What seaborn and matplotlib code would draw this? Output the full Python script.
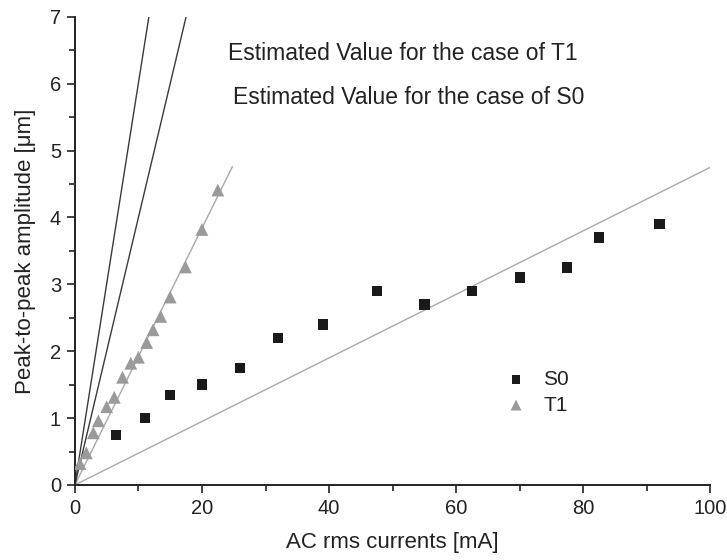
import numpy as np
import pandas as pd
import matplotlib
matplotlib.use("Agg")
import matplotlib.pyplot as plt
import seaborn as sns
from matplotlib.ticker import MultipleLocator

# ---- data ----
s0_x = [6.5, 11, 15, 20, 26, 32, 39, 47.5, 55, 62.5, 70, 77.5, 82.5, 92]
s0_y = [0.75, 1.0, 1.35, 1.5, 1.75, 2.2, 2.4, 2.9, 2.7, 2.9, 3.1, 3.25, 3.7, 3.9]
t1_x = [0.8, 1.8, 2.9, 3.7, 5.0, 6.2, 7.5, 8.8, 10.0, 11.3, 12.3, 13.5, 15.0, 17.4, 20.0, 22.5]
t1_y = [0.32, 0.48, 0.78, 0.96, 1.17, 1.31, 1.61, 1.82, 1.91, 2.13, 2.32, 2.52, 2.81, 3.26, 3.82, 4.41]

# fitted / estimated lines through origin: slope and x extent
line_slopes = [0.0475, 0.192, 0.40, 0.601]
line_xend = [100, 24.8, 17.5, 11.65]
line_colors = ["#a8a8a8", "#a8a8a8", "#3a3a3a", "#3a3a3a"]

annotations = ["Estimated Value for the case of T1", "Estimated Value for the case of S0"]

sns.set_style("ticks")
plt.rcParams['font.family'] = ['Liberation Sans', 'DejaVu Sans']

fig = plt.figure(figsize=(7.27, 5.6), dpi=100)
ax = fig.add_axes([0.103, 0.134, 0.874, 0.836])

for k, xe, c in zip(line_slopes, line_xend, line_colors):
    xs = np.array([0, xe])
    df_l = pd.DataFrame({"x": xs, "y": k * xs})
    sns.lineplot(data=df_l, x="x", y="y", color=c, lw=1.0, ax=ax, zorder=1)

df_s0 = pd.DataFrame({"x": s0_x, "y": s0_y})
df_t1 = pd.DataFrame({"x": t1_x, "y": t1_y})
sns.scatterplot(data=df_s0, x="x", y="y", marker="s", s=55, color="#1a1a1a",
                edgecolor="none", ax=ax, label="S0", zorder=3)
sns.scatterplot(data=df_t1, x="x", y="y", marker="^", s=85, color="#9a9a9a",
                edgecolor="none", ax=ax, label="T1", zorder=3)

ax.set_xlim(0, 100)
ax.set_ylim(0, 7)
ax.xaxis.set_major_locator(MultipleLocator(20))
ax.xaxis.set_minor_locator(MultipleLocator(10))
ax.yaxis.set_major_locator(MultipleLocator(1))
ax.yaxis.set_minor_locator(MultipleLocator(0.5))
ax.tick_params(which="major", direction="out", length=6, width=1.2, labelsize=14.5,
               colors="#222222", pad=4)
ax.tick_params(which="minor", direction="out", length=4, width=1.2, colors="#222222")
for sp in ["top", "right"]:
    ax.spines[sp].set_visible(False)
for sp in ["left", "bottom"]:
    ax.spines[sp].set_linewidth(1.4)
    ax.spines[sp].set_color("#222222")

ax.set_xlabel("AC rms currents [mA]", fontsize=16, color="#222222", labelpad=10)
ax.set_ylabel("Peak-to-peak amplitude [μm]", fontsize=16, color="#222222", labelpad=10)

ax.text(0.241, 0.921, annotations[0], transform=ax.transAxes, fontsize=16.5, color="#222222", va="center")
ax.text(0.249, 0.828, annotations[1], transform=ax.transAxes, fontsize=16.5, color="#222222", va="center")

leg = ax.legend(loc="upper left", bbox_to_anchor=(0.632, 0.285), frameon=False, fontsize=15,
                handletextpad=0.3, labelspacing=0.3, markerscale=0.85)
for t in leg.get_texts():
    t.set_color("#222222")

fig.savefig("out.png", dpi=100)
